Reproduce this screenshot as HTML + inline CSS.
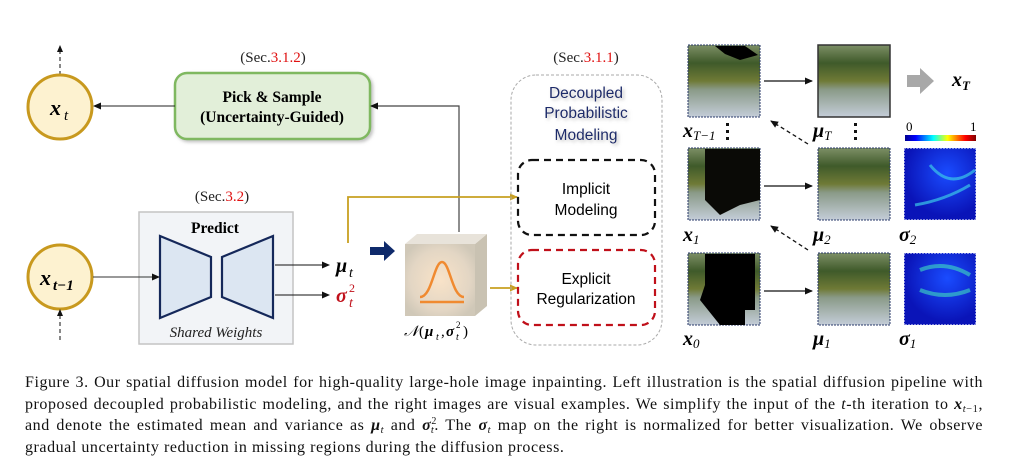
<!DOCTYPE html>
<html><head><meta charset="utf-8"><style>
body{margin:0;width:1033px;height:466px;background:#fff;overflow:hidden;position:relative;font-family:"Liberation Serif",serif}
svg{position:absolute;left:0;top:0}
.cap{position:absolute;left:25px;top:372px;width:958px;font-size:16px;letter-spacing:0.55px;color:#111}
.cap div{height:21.6px;line-height:21.6px;text-align:justify;text-align-last:justify;white-space:nowrap;overflow:visible}
.cap div.last{text-align-last:left}
.s{font-size:10.5px;position:relative;top:3px;line-height:0}
.p{font-size:10px;position:relative;top:-6px;line-height:0}
</style></head><body>
<svg width="1033" height="370" viewBox="0 0 1033 370">
<defs>
<marker id="ah" markerWidth="8" markerHeight="8" refX="7" refY="4" orient="auto" markerUnits="userSpaceOnUse"><path d="M0,0.5 L8,4 L0,7.5 z" fill="#111"/></marker>
<marker id="ahg" markerWidth="8" markerHeight="8" refX="7" refY="4" orient="auto" markerUnits="userSpaceOnUse"><path d="M0,0.5 L8,4 L0,7.5 z" fill="#c8a021"/></marker>
<linearGradient id="land" x1="0" y1="0" x2="0" y2="1">
<stop offset="0" stop-color="#7d8f66"/><stop offset="0.25" stop-color="#3f5a2a"/><stop offset="0.5" stop-color="#6f7a36"/><stop offset="0.62" stop-color="#8a9a88"/><stop offset="1" stop-color="#c4cdd8"/></linearGradient>
<radialGradient id="gauss" cx="0.5" cy="0.5" r="0.6"><stop offset="0" stop-color="#f9e3c8"/><stop offset="0.7" stop-color="#e3d6c4"/><stop offset="1" stop-color="#d0c8b8"/></radialGradient>
<radialGradient id="sig" cx="0.6" cy="0.35" r="0.6"><stop offset="0" stop-color="#1a4cff"/><stop offset="1" stop-color="#0a14b8"/></radialGradient>
<filter id="sh"><feDropShadow dx="2" dy="2" stdDeviation="1.5" flood-color="#999" flood-opacity="0.6"/></filter>
</defs>
<line x1="60" y1="75" x2="60" y2="50" stroke="#111" stroke-dasharray="4,3"/><path d="M57,52 L60,45 L63,52z" fill="#111"/>
<circle cx="60" cy="107" r="32" fill="#fdf2d0" stroke="#c8991e" stroke-width="3"/>
<text x="50" y="115" font-weight="bold" font-style="italic" font-size="22">x</text><text x="64" y="120" font-style="italic" font-size="15">t</text>
<circle cx="60" cy="277" r="32" fill="#fdf2d0" stroke="#c8991e" stroke-width="3"/>
<text x="40" y="285" font-weight="bold" font-style="italic" font-size="22">x</text><text x="53" y="290" font-style="italic" font-weight="bold" font-size="15">t−1</text>
<line x1="60" y1="340" x2="60" y2="315" stroke="#111" stroke-dasharray="4,3"/><path d="M57,316 L60,309 L63,316z" fill="#111"/>
<text x="273" y="62" text-anchor="middle" font-size="15" fill="#222">(Sec.<tspan fill="#e01010">3.1.2</tspan>)</text>
<rect x="175" y="73" width="195" height="66" rx="12" fill="#e2efd9" stroke="#7fb860" stroke-width="2.5" filter="url(#sh)"/>
<text x="272" y="102" text-anchor="middle" font-weight="bold" font-size="15.5">Pick &amp; Sample</text>
<text x="272" y="122" text-anchor="middle" font-weight="bold" font-size="15.5">(Uncertainty-Guided)</text>
<line x1="175" y1="106" x2="94" y2="106" stroke="#222" marker-end="url(#ah)"/>
<polyline points="459,232 459,106 371,106" fill="none" stroke="#444" stroke-width="1.2" marker-end="url(#ah)"/>
<text x="222" y="201" text-anchor="middle" font-size="15" fill="#222">(Sec.<tspan fill="#e01010">3.2</tspan>)</text>
<rect x="139" y="212" width="154" height="132" fill="#f2f4f7" stroke="#c4c4c4" stroke-width="1.5"/>
<text x="215" y="233" text-anchor="middle" font-weight="bold" font-size="15.5">Predict</text>
<path d="M160,236 L211,257 L211,297 L160,318z" fill="#dce6f2" stroke="#15285a" stroke-width="2.2"/>
<path d="M222,257 L273,236 L273,318 L222,297z" fill="#dce6f2" stroke="#15285a" stroke-width="2.2"/>
<text x="216" y="337" text-anchor="middle" font-style="italic" font-size="15" fill="#222">Shared Weights</text>
<line x1="93" y1="277" x2="159" y2="277" stroke="#333" marker-end="url(#ah)"/>
<line x1="275" y1="265" x2="329" y2="265" stroke="#111" marker-end="url(#ah)"/>
<line x1="275" y1="295" x2="329" y2="295" stroke="#111" marker-end="url(#ah)"/>
<text x="336" y="272" font-weight="bold" font-style="italic" font-size="20">μ</text><text x="349" y="277" font-style="italic" font-size="14">t</text>
<text x="336" y="302" font-weight="bold" font-style="italic" font-size="20" fill="#c0101a">σ</text><text x="349" y="292" font-size="12" fill="#c0101a">2</text><text x="349" y="307" font-style="italic" font-size="14" fill="#c0101a">t</text>
<path d="M370,247 L384,247 L384,241 L395,251 L384,261 L384,255 L370,255z" fill="#0f2a6b"/>
<path d="M475,244 L487,234 L487,306 L475,316z" fill="#c9c2b2"/>
<path d="M405,244 L417,234 L487,234 L475,244z" fill="#e8e3da"/>
<rect x="405" y="244" width="70" height="72" fill="url(#gauss)"/>
<path d="M420,297 C432,297 434,262 442,262 C450,262 452,297 464,297" fill="none" stroke="#f08a30" stroke-width="2.5"/>
<line x1="420" y1="302" x2="464" y2="302" stroke="#f08a30" stroke-width="2.5"/>
<g font-size="15">
<text x="404" y="336" font-style="italic">𝒩</text><text x="419" y="336">(</text>
<text x="425" y="336" font-weight="bold" font-style="italic">μ</text><text x="436" y="340" font-style="italic" font-size="10">t</text>
<text x="441" y="336">,</text>
<text x="446" y="336" font-weight="bold" font-style="italic">σ</text><text x="456" y="328" font-size="9">2</text><text x="456" y="340" font-style="italic" font-size="10">t</text>
<text x="463" y="336">)</text></g>
<polyline points="348,243 348,197 517,197" fill="none" stroke="#c8a021" stroke-width="1.8" marker-end="url(#ahg)"/>
<line x1="490" y1="288" x2="517" y2="288" stroke="#c8a021" stroke-width="1.8" marker-end="url(#ahg)"/>
<text x="586" y="62" text-anchor="middle" font-size="15" fill="#222">(Sec.<tspan fill="#e01010">3.1.1</tspan>)</text>
<rect x="511" y="75" width="151" height="270" rx="25" fill="none" stroke="#aaa" stroke-dasharray="3,2"/>
<g font-family="Liberation Sans" font-size="15.5" fill="#1a2a6a" text-anchor="middle" filter="url(#sh)">
<text x="586" y="98">Decoupled</text><text x="586" y="118">Probabilistic</text><text x="586" y="140">Modeling</text></g>
<rect x="518" y="160" width="137" height="75" rx="14" fill="none" stroke="#111" stroke-width="2.2" stroke-dasharray="7,5"/>
<text x="586" y="194" text-anchor="middle" font-family="Liberation Sans" font-size="15.5">Implicit</text>
<text x="586" y="215" text-anchor="middle" font-family="Liberation Sans" font-size="15.5">Modeling</text>
<rect x="518" y="250" width="137" height="75" rx="14" fill="none" stroke="#c0101a" stroke-width="2.2" stroke-dasharray="7,5"/>
<text x="586" y="284" text-anchor="middle" font-family="Liberation Sans" font-size="15.5">Explicit</text>
<text x="586" y="304" text-anchor="middle" font-family="Liberation Sans" font-size="15.5">Regularization</text>
<g stroke="#2a3a6a" stroke-dasharray="2,1">
<rect x="688" y="45" width="72" height="72" fill="url(#land)"/>
<rect x="818" y="45" width="72" height="72" fill="url(#land)" stroke="#333" stroke-dasharray="none" stroke-width="1.5"/>
<rect x="688" y="148" width="72" height="72" fill="url(#land)"/>
<rect x="818" y="148" width="72" height="72" fill="url(#land)"/>
<rect x="688" y="253" width="72" height="72" fill="url(#land)"/>
<rect x="818" y="253" width="72" height="72" fill="url(#land)"/>
<rect x="904" y="148" width="72" height="72" fill="url(#sig)" stroke="#fff"/>
<rect x="904" y="253" width="72" height="72" fill="url(#sig)" stroke="#fff"/>
</g>
<path d="M715,46 L745,46 L758,55 L740,60 L725,54z" fill="#000"/>
<path d="M705,149 L760,149 L760,200 L740,205 L720,215 L705,200z" fill="#0a0a06"/>
<path d="M705,254 L755,254 L755,310 L745,310 L745,325 L720,325 L700,300 L705,285z" fill="#000"/>
<path d="M930,165 Q950,190 975,170 M915,205 Q945,200 970,185" stroke="#3ac8e8" stroke-width="3" fill="none" opacity="0.7"/>
<path d="M920,290 Q945,300 970,290 M920,270 Q945,260 970,275" stroke="#40e0c0" stroke-width="4" fill="none" opacity="0.6"/>
<g stroke="#111" stroke-width="1.3">
<line x1="764" y1="81" x2="812" y2="81" marker-end="url(#ah)"/>
<line x1="764" y1="186" x2="812" y2="186" marker-end="url(#ah)"/>
<line x1="764" y1="291" x2="812" y2="291" marker-end="url(#ah)"/>
<line x1="808" y1="144" x2="771" y2="121" stroke-dasharray="4,3" marker-end="url(#ah)"/>
<line x1="808" y1="250" x2="771" y2="226" stroke-dasharray="4,3" marker-end="url(#ah)"/>
</g>
<path d="M907,75 L920,75 L920,68 L934,81 L920,94 L920,87 L907,87z" fill="#a8a8a8"/>
<g font-weight="bold" font-style="italic" font-size="20">
<text x="952" y="86">x<tspan font-size="13" dy="4">T</tspan></text>
<text x="683" y="137">x<tspan font-size="13" dy="3" font-weight="normal">T−1</tspan></text>
<text x="813" y="137">μ<tspan font-size="13" dy="3" font-weight="normal">T</tspan></text>
<text x="683" y="241">x<tspan font-size="13" dy="3" font-weight="normal">1</tspan></text>
<text x="813" y="241">μ<tspan font-size="13" dy="3" font-weight="normal">2</tspan></text>
<text x="899" y="241">σ<tspan font-size="13" dy="3" font-weight="normal">2</tspan></text>
<text x="683" y="345">x<tspan font-size="13" dy="3" font-weight="normal">0</tspan></text>
<text x="813" y="345">μ<tspan font-size="13" dy="3" font-weight="normal">1</tspan></text>
<text x="899" y="345">σ<tspan font-size="13" dy="3" font-weight="normal">1</tspan></text>
</g>
<g fill="#111"><rect x="726" y="123" width="3" height="3"/><rect x="726" y="130" width="3" height="3"/><rect x="726" y="137" width="3" height="3"/>
<rect x="854" y="123" width="3" height="3"/><rect x="854" y="130" width="3" height="3"/><rect x="854" y="137" width="3" height="3"/></g>
<defs><linearGradient id="jet"><stop offset="0" stop-color="#00008f"/><stop offset="0.15" stop-color="#0000ff"/><stop offset="0.4" stop-color="#00ffff"/><stop offset="0.6" stop-color="#ffff00"/><stop offset="0.85" stop-color="#ff0000"/><stop offset="1" stop-color="#800000"/></linearGradient></defs>
<rect x="905" y="135" width="71" height="6" fill="url(#jet)"/>
<text x="906" y="131" font-size="13">0</text><text x="970" y="131" font-size="13">1</text>
</svg>
<div class="cap">
<div>Figure 3. Our spatial diffusion model for high-quality large-hole image inpainting. Left illustration is the spatial diffusion pipeline with</div>
<div>proposed decoupled probabilistic modeling, and the right images are visual examples. We simplify the input of the <i>t</i>-th iteration to <b><i>x</i></b><span class="s"><i>t</i>−1</span>,</div>
<div>and denote the estimated mean and variance as <b><i>μ</i></b><span class="s"><i>t</i></span> and <b><i>σ</i></b><span class="p">2</span><span class="s" style="margin-left:-6px"><i>t</i></span>. The <b><i>σ</i></b><span class="s"><i>t</i></span> map on the right is normalized for better visualization. We observe</div>
<div class="last">gradual uncertainty reduction in missing regions during the diffusion process.</div>
</div>
</body></html>
